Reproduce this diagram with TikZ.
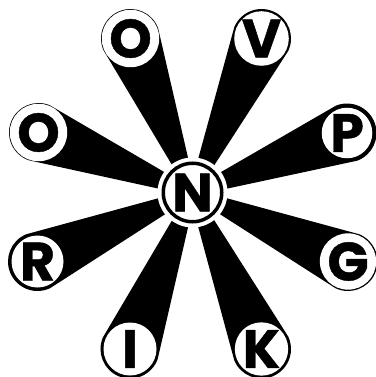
\documentclass[tikz,border=0pt]{standalone}
\usepackage{fontspec}
\setmainfont{Poppins}
\usetikzlibrary{calc}
\begin{document}
\begin{tikzpicture}[x=1pt,y=-1pt,
  lettr/.style={font=\fontsize{54}{54}\selectfont\bfseries\addfontfeatures{FakeBold=0.8}},
  leaf/.style={circle,fill=white,inner sep=0pt,lettr},
  hub/.style={circle,fill=white,draw=black,line width=3.5pt,inner sep=0pt,minimum size=58.5pt,lettr}]
\useasboundingbox (0,0) rectangle (375,377);
\coordinate (C) at (192.5,192.5);
% petals (end circles of radius 30, tapering to the hub)
\foreach \q/\px/\py in {ot/130.5/38.5, v/261.5/38.5, ol/38.5/132.5, p/347/133,
                        r/37.5/261.5, g/348/261.5, i/130/349, k/261.5/349}{
  \coordinate (\q) at (\px,\py);
  \pgfmathsetmacro{\ang}{atan2(\py-192.5,\px-192.5)}
  \fill ($(C)+(\ang+91:3.5)$) -- ($(\q)+(\ang+91:29.5)$)
        arc[start angle=\ang+91, end angle=\ang-91, radius=29.5]
        -- ($(C)+(\ang-91:3.5)$) -- cycle;
}
\fill[white] (C) circle[radius=35];
\node[hub] (N) at (C) {N};
\node[leaf,minimum size=43pt] (O2) at (ot) {O};
\node[leaf,minimum size=45pt] (V) at (v) {V};
\node[leaf,minimum size=47pt] (O1) at (ol) {O};
\node[leaf,minimum size=50pt] (P) at (p) {P};
\node[leaf,minimum size=52pt] (R) at (r) {R};
\node[leaf,minimum size=50pt] (G) at (g) {G};
\node[leaf,minimum size=53pt] (I) at (i) {I};
\node[leaf,minimum size=53pt] (K) at (k) {K};
\end{tikzpicture}
\end{document}
